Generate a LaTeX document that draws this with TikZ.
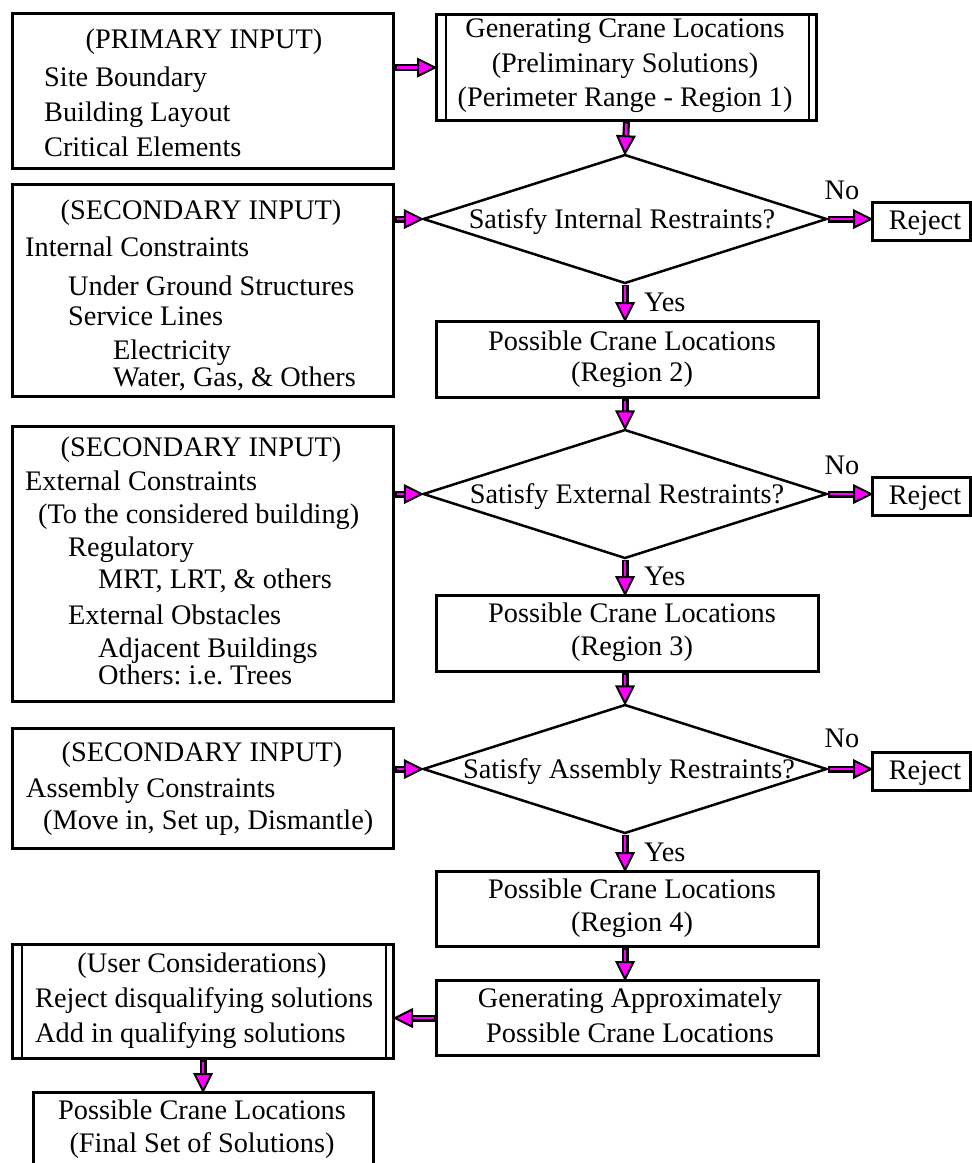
\documentclass[tikz,border=0pt]{standalone}
\usepackage{fontspec}
\setmainfont{Liberation Serif}
\usetikzlibrary{shapes.geometric,calc}
\definecolor{flowpink}{RGB}{255,0,255}
\frenchspacing

\tikzset{
  box/.style={draw, line width=3pt, rectangle, inner sep=0pt, anchor=north west},
  rejectbox/.style={box, minimum width=98pt, minimum height=38pt},
  regionbox/.style={box, minimum width=382pt, minimum height=76pt},
  decision/.style={draw, line width=2.5pt, diamond, inner sep=0pt,
                   minimum width=404pt, minimum height=129pt},
  sideline/.style={line width=1.5pt},
  txt/.style={inner sep=0pt, font=\fontsize{28.3}{34}\selectfont},
  ctxt/.style={txt, anchor=base},
  ltxt/.style={txt, anchor=base west},
}

% block arrow: black-edged magenta shaft and magenta triangular head
\newcommand{\flowarrow}[2]{%
  \coordinate (fa-s) at #1;
  \coordinate (fa-e) at #2;
  \coordinate (fa-b) at ($(fa-e)!17pt!(fa-s)$);
  \draw[line width=7pt] (fa-s) -- (fa-b);
  \draw[line width=2.6pt, flowpink] ($(fa-s)!1.5pt!(fa-e)$) -- (fa-b);
  \filldraw[fill=flowpink, draw=black, line width=2pt, line join=miter]
    (fa-e) -- ($(fa-b)!8.5pt!90:(fa-e)$) -- ($(fa-b)!8.5pt!-90:(fa-e)$) -- cycle;
}

\begin{document}
\begin{tikzpicture}[x=1pt, y=-1pt]
\useasboundingbox (0,0) rectangle (972,1163);
\clip (0,0) rectangle (972,1163);

% ---------- left column: inputs ----------
\node[box, minimum width=381pt, minimum height=155pt] (prim) at (11,12) {};
\node[ctxt] (pa0) at (204,48.5) {(PRIMARY INPUT)};
\node[ltxt] (pa1) at (44,86.5) {Site Boundary};
\node[ltxt] (pa2) at (44,121) {Building Layout};
\node[ltxt] (pa3) at (44,156.5) {Critical Elements};

\node[box, minimum width=381pt, minimum height=212pt] (sec1) at (11,183) {};
\node[ctxt] (sa0) at (201,219.5) {(SECONDARY INPUT)};
\node[ltxt] (sa1) at (25,256.5) {Internal Constraints};
\node[ltxt] (sa2) at (68,295.5) {Under Ground Structures};
\node[ltxt] (sa3) at (68,325.5) {Service Lines};
\node[ltxt] (sa4) at (113,359.5) {Electricity};
\node[ltxt] (sa5) at (113,386.5) {Water, Gas, \& Others};

\node[box, minimum width=381pt, minimum height=275pt] (sec2) at (11,425) {};
\node[ctxt] (sb0) at (201,456.5) {(SECONDARY INPUT)};
\node[ltxt] (sb1) at (25,490.5) {External Constraints};
\node[ltxt] (sb2) at (38,523.5) {(To the considered building)};
\node[ltxt] (sb3) at (68,556.5) {Regulatory};
\node[ltxt] (sb4) at (98,588.5) {MRT, LRT, \& others};
\node[ltxt] (sb5) at (68,624.5) {External Obstacles};
\node[ltxt] (sb6) at (98,657.5) {Adjacent Buildings};
\node[ltxt] (sb7) at (98,684.5) {Others: i.e. Trees};

\node[box, minimum width=381pt, minimum height=120pt] (sec3) at (11,727) {};
\node[ctxt] (sc0) at (202,761.5) {(SECONDARY INPUT)};
\node[ltxt] (sc1) at (26,797.5) {Assembly Constraints};
\node[ltxt] (sc2) at (43,829.5) {(Move in, Set up, Dismantle)};

\node[box, minimum width=381pt, minimum height=114pt] (user) at (11,943) {};
\draw[sideline] ([xshift=11pt]user.north west) -- ([xshift=11pt]user.south west);
\draw[sideline] ([xshift=-9pt]user.north east) -- ([xshift=-9pt]user.south east);
\node[ctxt] (ua0) at (202,972.5) {(User Considerations)};
\node[ltxt] (ua1) at (35,1007.5) {Reject disqualifying solutions};
\node[ltxt] (ua2) at (35,1042.5) {Add in qualifying solutions};

\node[box, minimum width=340pt, minimum height=120pt] (final) at (32,1091) {};
\node[ctxt] (fa0) at (202,1119.5) {Possible Crane Locations};
\node[ctxt] (fa1) at (202,1152.5) {(Final Set of Solutions)};

% ---------- right column: process ----------
\node[box, minimum width=380pt, minimum height=106pt] (gen) at (435,13) {};
\draw[sideline] ([xshift=11pt]gen.north west) -- ([xshift=11pt]gen.south west);
\draw[sideline] ([xshift=-9pt]gen.north east) -- ([xshift=-9pt]gen.south east);
\node[ctxt] (ga0) at (625,37.5) {Generating Crane Locations};
\node[ctxt] (ga1) at (625,72.5) {(Preliminary Solutions)};
\node[ctxt] (ga2) at (625,106.5) {(Perimeter Range - Region 1)};

\node[decision] (d1) at (625,219) {};
\node[ctxt] (d1t) at (622,228.5) {Satisfy Internal Restraints?};
\node[rejectbox] (rej1) at (871,201) {};
\node[ctxt] (rj1) at (925,229.5) {Reject};
\node[ctxt] (no1) at (842,199.5) {No};
\node[ltxt] (yes1) at (644,311.5) {Yes};

\node[regionbox] (reg2) at (435,320) {};
\node[ctxt] (r2a) at (632,350.5) {Possible Crane Locations};
\node[ctxt] (r2b) at (632,381.5) {(Region 2)};

\node[decision] (d2) at (625,494) {};
\node[ctxt] (d2t) at (627,503.5) {Satisfy External Restraints?};
\node[rejectbox] (rej2) at (871,476) {};
\node[ctxt] (rj2) at (925,504.5) {Reject};
\node[ctxt] (no2) at (842,474.5) {No};
\node[ltxt] (yes2) at (644,585.5) {Yes};

\node[regionbox] (reg3) at (435,594) {};
\node[ctxt] (r3a) at (632,622.5) {Possible Crane Locations};
\node[ctxt] (r3b) at (632,655.5) {(Region 3)};

\node[decision] (d3) at (625,769) {};
\node[ctxt] (d3t) at (629,778.5) {Satisfy Assembly Restraints?};
\node[rejectbox] (rej3) at (871,751) {};
\node[ctxt] (rj3) at (925,779.5) {Reject};
\node[ctxt] (no3) at (842,747.5) {No};
\node[ltxt] (yes3) at (644,861.5) {Yes};

\node[box, minimum width=382pt, minimum height=75pt] (reg4) at (435,870) {};
\node[ctxt] (r4a) at (632,898.5) {Possible Crane Locations};
\node[ctxt] (r4b) at (632,931.5) {(Region 4)};

\node[regionbox, minimum height=75pt] (appr) at (435,979) {};
\node[ctxt] (ap0) at (630,1007.5) {Generating Approximately};
\node[ctxt] (ap1) at (630,1042.5) {Possible Crane Locations};

% ---------- connectors ----------
\flowarrow{(prim.east |- gen.west)}{(gen.west)}
\flowarrow{(gen.south)}{(d1.north)}
\flowarrow{(sec1.east |- d1.west)}{(d1.west)}
\flowarrow{(d1.east)}{(d1.east -| rej1.west)}
\flowarrow{(d1.south)}{(d1.south |- reg2.north)}
\flowarrow{(d2.north |- reg2.south)}{(d2.north)}
\flowarrow{(sec2.east |- d2.west)}{(d2.west)}
\flowarrow{(d2.east)}{(d2.east -| rej2.west)}
\flowarrow{(d2.south)}{(d2.south |- reg3.north)}
\flowarrow{(d3.north |- reg3.south)}{(d3.north)}
\flowarrow{(sec3.east |- d3.west)}{(d3.west)}
\flowarrow{(d3.east)}{(d3.east -| rej3.west)}
\flowarrow{(d3.south)}{(d3.south |- reg4.north)}
\flowarrow{(d3.south |- reg4.south)}{(d3.south |- appr.north)}
\flowarrow{(appr.west)}{(appr.west -| user.east)}
\flowarrow{(user.south)}{(user.south |- final.north)}
\end{tikzpicture}
\end{document}
